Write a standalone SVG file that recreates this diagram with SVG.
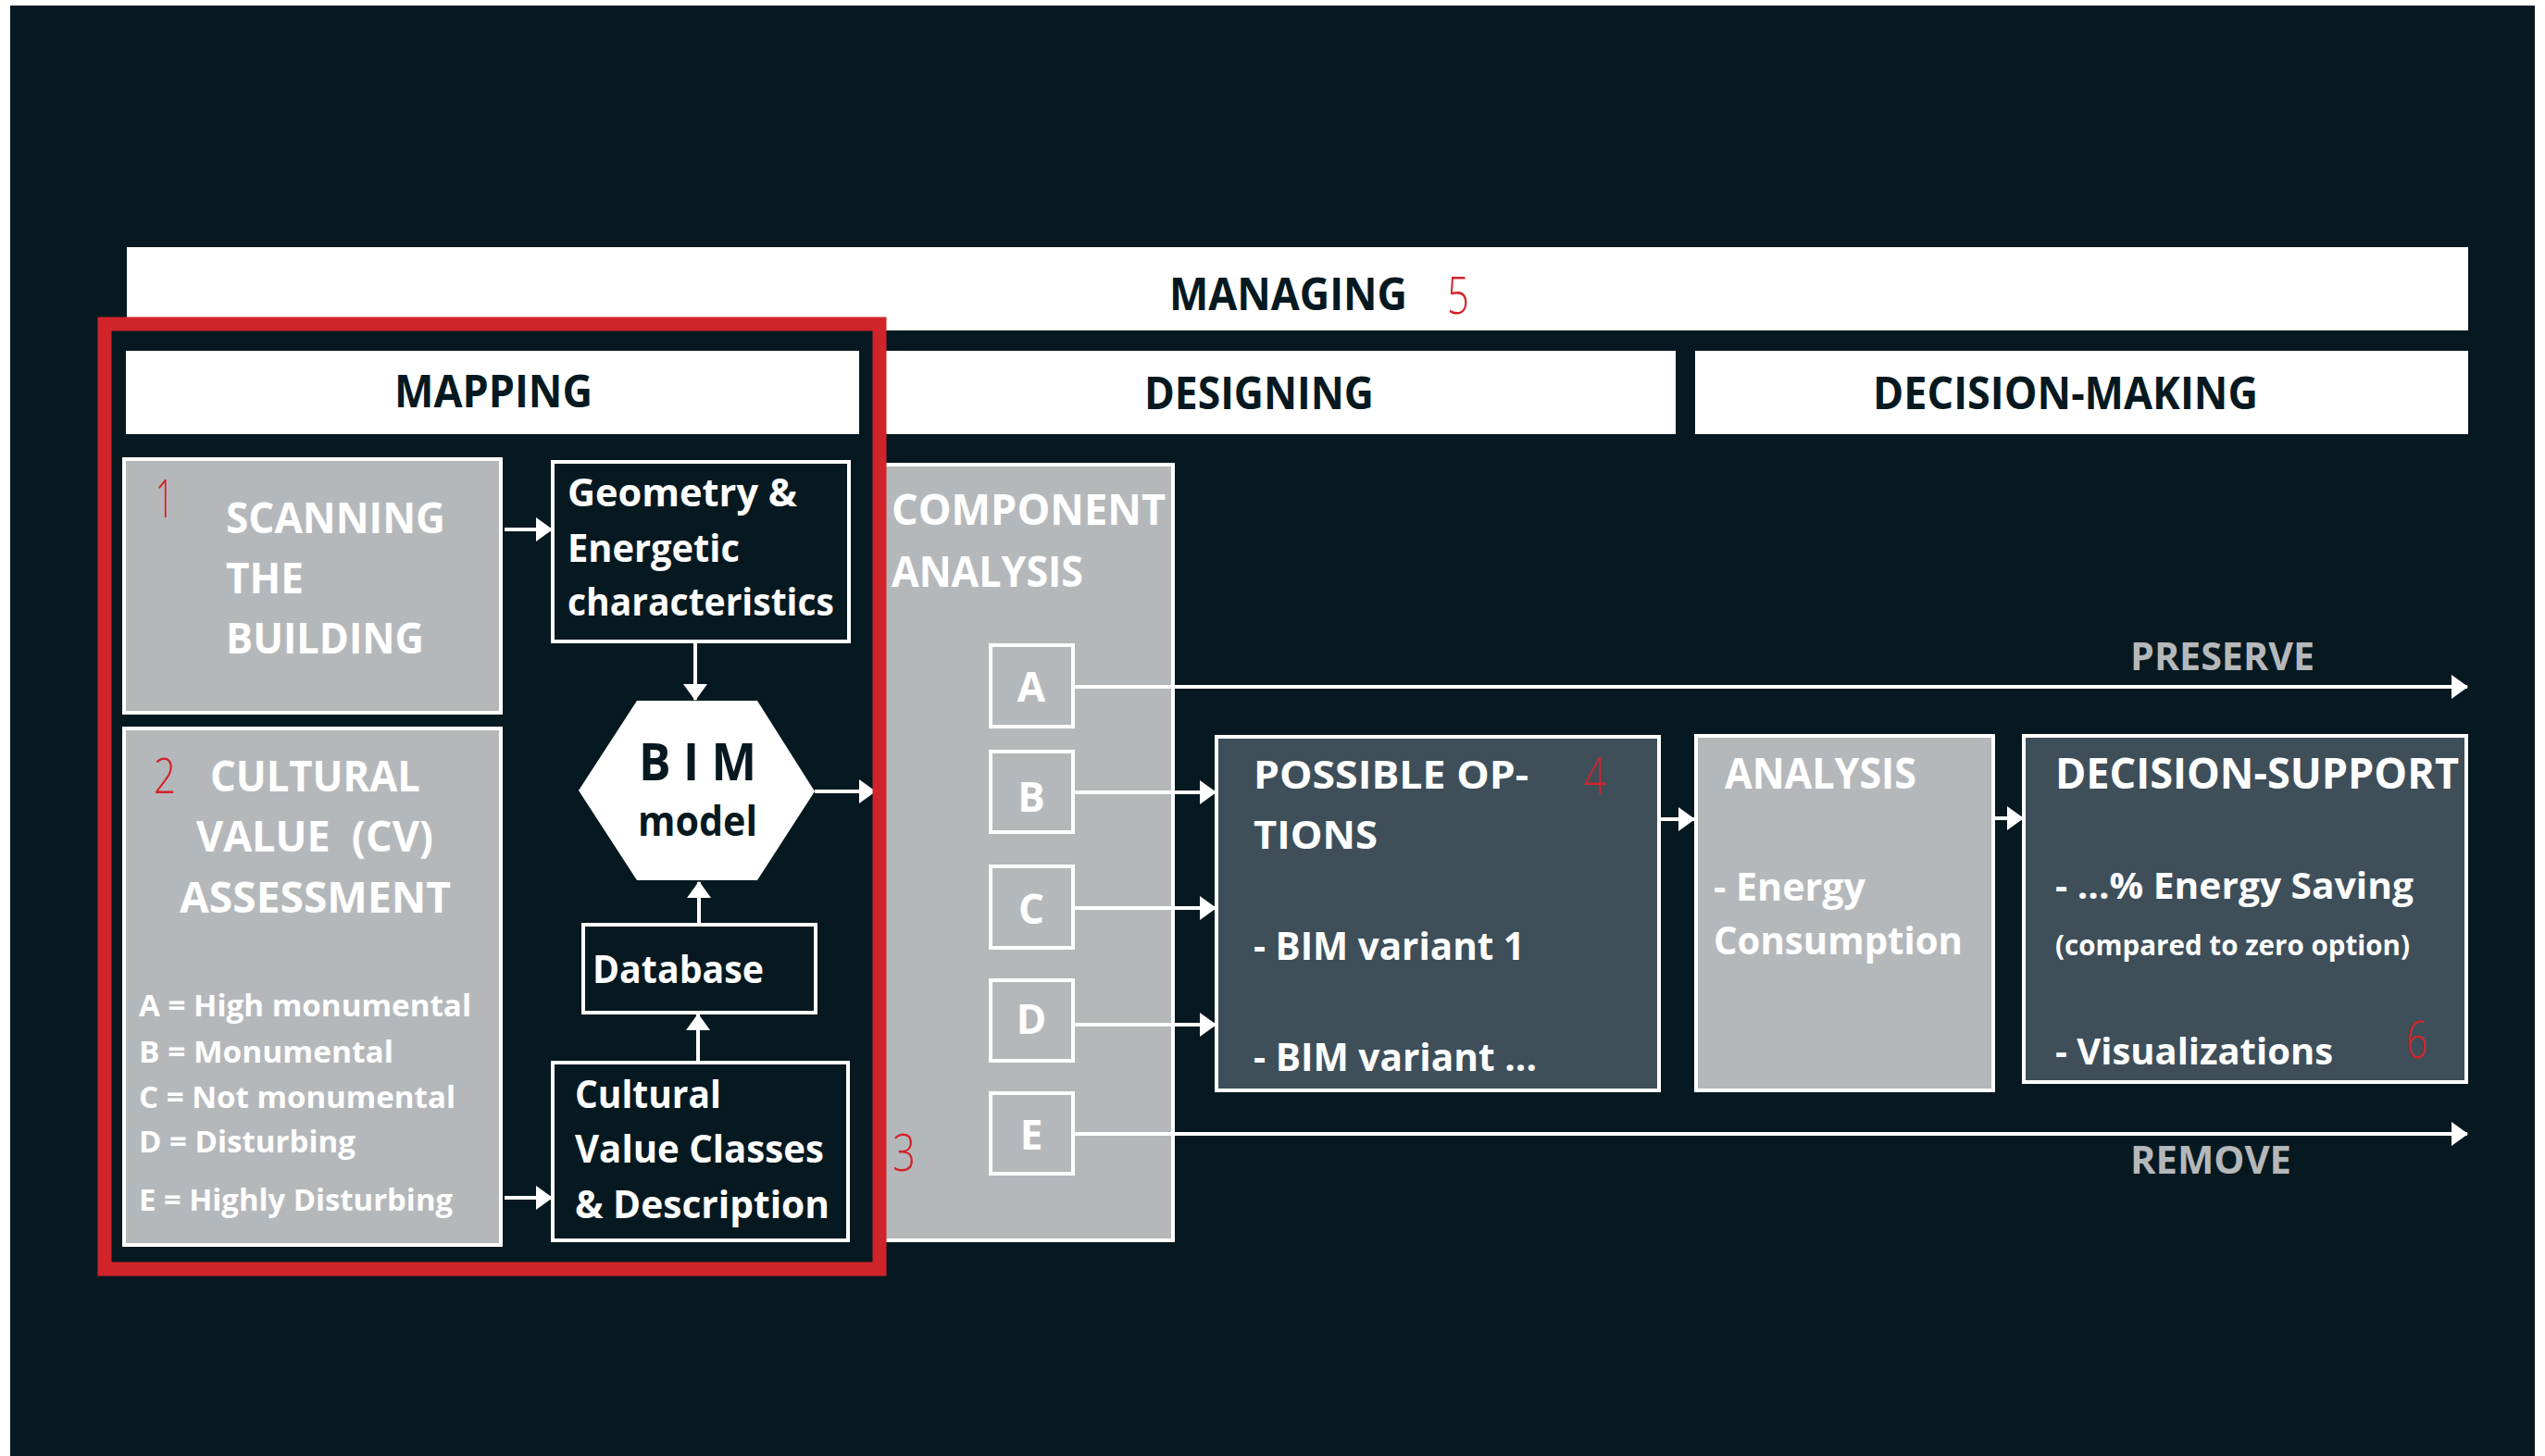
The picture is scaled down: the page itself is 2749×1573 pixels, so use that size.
<svg xmlns="http://www.w3.org/2000/svg" width="2749" height="1573" viewBox="0 0 2749 1573">
<defs>
<style>
text{font-family:"Open Sans","Liberation Sans",sans-serif;font-weight:700}
.w{fill:#ffffff}
.d{fill:#071920}
.g{fill:#b5b8bb}
.num{fill:#d1232a;font-weight:300}
.bar{fill:#ffffff}
.gbox{fill:#b5b8bb;stroke:#ffffff;stroke-width:4}
.sbox{fill:#3e4f5a;stroke:#ffffff;stroke-width:4}
.kbox{fill:#071920;stroke:#ffffff;stroke-width:4}
.con{stroke:#ffffff;stroke-width:4;fill:none}
</style>
<marker id="ah" markerUnits="userSpaceOnUse" markerWidth="18" markerHeight="26" refX="17" refY="13" orient="auto">
<path d="M0,0 L18,13 L0,26 z" fill="#ffffff"/>
</marker>
</defs>
<rect x="0" y="0" width="2749" height="1573" fill="#ffffff"/>
<rect x="11" y="6" width="2727" height="1567" fill="#071920"/>

<g id="managing">
<rect class="bar" x="137" y="267" width="2529" height="90"/>
<text class="d" x="1263" y="335" font-size="49" textLength="257" lengthAdjust="spacingAndGlyphs">MANAGING</text>
<text class="num" x="1563" y="339" font-size="55" textLength="24" lengthAdjust="spacingAndGlyphs">5</text>
</g>
<g id="mapping">
<rect class="bar" x="136" y="379" width="792" height="90"/>
<text class="d" x="426" y="440" font-size="49" textLength="214" lengthAdjust="spacingAndGlyphs">MAPPING</text>
</g>
<g id="designing">
<rect class="bar" x="950" y="379" width="860" height="90"/>
<text class="d" x="1236" y="442" font-size="49" textLength="248" lengthAdjust="spacingAndGlyphs">DESIGNING</text>
</g>
<g id="decision-making">
<rect class="bar" x="1831" y="379" width="835" height="90"/>
<text class="d" x="2023" y="442" font-size="49" textLength="416" lengthAdjust="spacingAndGlyphs">DECISION-MAKING</text>
</g>

<g id="scanning">
<rect class="gbox" x="134" y="496" width="407" height="274"/>
<text class="num" x="168" y="559" font-size="57" textLength="20" lengthAdjust="spacingAndGlyphs">1</text>
<text class="w" x="244" y="576" font-size="46" textLength="237" lengthAdjust="spacingAndGlyphs">SCANNING</text>
<text class="w" x="244" y="641" font-size="46" textLength="84" lengthAdjust="spacingAndGlyphs">THE</text>
<text class="w" x="244" y="706" font-size="46" textLength="214" lengthAdjust="spacingAndGlyphs">BUILDING</text>
</g>
<g id="cv-assessment">
<rect class="gbox" x="134" y="787" width="407" height="558"/>
<text class="num" x="166" y="857" font-size="53" textLength="24" lengthAdjust="spacingAndGlyphs">2</text>
<text class="w" x="227" y="855" font-size="47" textLength="227" lengthAdjust="spacingAndGlyphs">CULTURAL</text>
<text class="w" x="212" y="920" font-size="47" textLength="256" lengthAdjust="spacingAndGlyphs" xml:space="preserve">VALUE  (CV)</text>
<text class="w" x="194" y="986" font-size="47" textLength="293" lengthAdjust="spacingAndGlyphs">ASSESSMENT</text>
<text class="w" x="150" y="1098" font-size="32" textLength="359" lengthAdjust="spacingAndGlyphs">A = High monumental</text>
<text class="w" x="150" y="1148" font-size="32" textLength="275" lengthAdjust="spacingAndGlyphs">B = Monumental</text>
<text class="w" x="150" y="1197" font-size="32" textLength="342" lengthAdjust="spacingAndGlyphs">C = Not monumental</text>
<text class="w" x="150" y="1245" font-size="32" textLength="234" lengthAdjust="spacingAndGlyphs">D = Disturbing</text>
<text class="w" x="150" y="1308" font-size="32" textLength="339" lengthAdjust="spacingAndGlyphs">E = Highly Disturbing</text>
</g>
<g id="geometry">
<rect class="kbox" x="597" y="499" width="320" height="194"/>
<text class="w" x="613" y="547" font-size="41" textLength="248" lengthAdjust="spacingAndGlyphs">Geometry &amp;</text>
<text class="w" x="613" y="607" font-size="41" textLength="186" lengthAdjust="spacingAndGlyphs">Energetic</text>
<text class="w" x="613" y="665" font-size="41" textLength="288" lengthAdjust="spacingAndGlyphs">characteristics</text>
</g>
<g id="bim-model">
<polygon points="625,854 688,757 818,757 880,855 818,951 688,951" fill="#ffffff"/>
<text class="d" x="690" y="843" font-size="56" textLength="127" lengthAdjust="spacingAndGlyphs">B I M</text>
<text class="d" x="689" y="903" font-size="44" textLength="129" lengthAdjust="spacingAndGlyphs">model</text>
</g>
<g id="database">
<rect class="kbox" x="630" y="999" width="251" height="95"/>
<text class="w" x="640" y="1062" font-size="42" textLength="185" lengthAdjust="spacingAndGlyphs">Database</text>
</g>
<g id="cv-classes">
<rect class="kbox" x="597" y="1148" width="319" height="192"/>
<text class="w" x="621" y="1197" font-size="41" textLength="158" lengthAdjust="spacingAndGlyphs">Cultural</text>
<text class="w" x="621" y="1256" font-size="41" textLength="269" lengthAdjust="spacingAndGlyphs">Value Classes</text>
<text class="w" x="621" y="1316" font-size="41" textLength="275" lengthAdjust="spacingAndGlyphs">&amp; Description</text>
</g>

<g id="component-analysis">
<rect class="gbox" x="950" y="502" width="317" height="838"/>
<text class="w" x="963" y="567" font-size="47" textLength="296" lengthAdjust="spacingAndGlyphs">COMPONENT</text>
<text class="w" x="963" y="634" font-size="47" textLength="207" lengthAdjust="spacingAndGlyphs">ANALYSIS</text>
<text class="num" x="964" y="1265" font-size="55" textLength="25" lengthAdjust="spacingAndGlyphs">3</text>
</g>
<g id="class-a"><rect class="gbox" x="1070" y="697" width="89" height="88"/><text class="w" x="1114" y="758" font-size="44" text-anchor="middle">A</text></g>
<g id="class-b"><rect class="gbox" x="1070" y="812" width="89" height="87"/><text class="w" x="1114" y="877" font-size="44" text-anchor="middle">B</text></g>
<g id="class-c"><rect class="gbox" x="1070" y="936" width="89" height="88"/><text class="w" x="1114" y="998" font-size="44" text-anchor="middle">C</text></g>
<g id="class-d"><rect class="gbox" x="1070" y="1059" width="89" height="87"/><text class="w" x="1114" y="1117" font-size="44" text-anchor="middle">D</text></g>
<g id="class-e"><rect class="gbox" x="1070" y="1181" width="89" height="87"/><text class="w" x="1114" y="1242" font-size="44" text-anchor="middle">E</text></g>

<g id="possible-options">
<rect class="sbox" x="1314" y="796" width="478" height="382"/>
<text class="w" x="1354" y="852" font-size="42" textLength="297" lengthAdjust="spacingAndGlyphs">POSSIBLE OP-</text>
<text class="num" x="1711" y="858" font-size="55" textLength="24" lengthAdjust="spacingAndGlyphs">4</text>
<text class="w" x="1354" y="917" font-size="42" textLength="134" lengthAdjust="spacingAndGlyphs">TIONS</text>
<text class="w" x="1354" y="1037" font-size="42" textLength="293" lengthAdjust="spacingAndGlyphs">- BIM variant 1</text>
<text class="w" x="1354" y="1157" font-size="42" textLength="306" lengthAdjust="spacingAndGlyphs">- BIM variant ...</text>
</g>
<g id="analysis">
<rect class="gbox" x="1832" y="795" width="321" height="383"/>
<text class="w" x="1863" y="852" font-size="47" textLength="207" lengthAdjust="spacingAndGlyphs">ANALYSIS</text>
<text class="w" x="1851" y="973" font-size="42" textLength="164" lengthAdjust="spacingAndGlyphs">- Energy</text>
<text class="w" x="1851" y="1031" font-size="42" textLength="269" lengthAdjust="spacingAndGlyphs">Consumption</text>
</g>
<g id="decision-support">
<rect class="sbox" x="2186" y="795" width="478" height="374"/>
<text class="w" x="2220" y="852" font-size="46" textLength="436" lengthAdjust="spacingAndGlyphs">DECISION-SUPPORT</text>
<text class="w" x="2220" y="971" font-size="40" textLength="387" lengthAdjust="spacingAndGlyphs">- ...% Energy Saving</text>
<text class="w" x="2220" y="1032" font-size="31" textLength="383" lengthAdjust="spacingAndGlyphs">(compared to zero option)</text>
<text class="w" x="2220" y="1150" font-size="40" textLength="300" lengthAdjust="spacingAndGlyphs">- Visualizations</text>
<text class="num" x="2599" y="1143" font-size="55" textLength="23" lengthAdjust="spacingAndGlyphs">6</text>
</g>
<g id="labels">
<text class="g" x="2301" y="724" font-size="42" textLength="199" lengthAdjust="spacingAndGlyphs">PRESERVE</text>
<text class="g" x="2301" y="1268" font-size="42" textLength="174" lengthAdjust="spacingAndGlyphs">REMOVE</text>
</g>

<g id="connectors">
<line class="con" x1="545" y1="572" x2="596" y2="572" marker-end="url(#ah)"/>
<line class="con" x1="751" y1="695" x2="751" y2="756" marker-end="url(#ah)"/>
<line class="con" x1="755" y1="998" x2="755" y2="953" marker-end="url(#ah)"/>
<line class="con" x1="754" y1="1147" x2="754" y2="1096" marker-end="url(#ah)"/>
<line class="con" x1="545" y1="1294" x2="596" y2="1294" marker-end="url(#ah)"/>
<line class="con" x1="880" y1="855" x2="945" y2="855" marker-end="url(#ah)"/>
<line class="con" x1="1159" y1="742" x2="2665" y2="742" marker-end="url(#ah)"/>
<line class="con" x1="1159" y1="856" x2="1313" y2="856" marker-end="url(#ah)"/>
<line class="con" x1="1159" y1="981" x2="1313" y2="981" marker-end="url(#ah)"/>
<line class="con" x1="1159" y1="1107" x2="1313" y2="1107" marker-end="url(#ah)"/>
<line class="con" x1="1159" y1="1225" x2="2665" y2="1225" marker-end="url(#ah)"/>
<line class="con" x1="1793" y1="885" x2="1830" y2="885" marker-end="url(#ah)"/>
<line class="con" x1="2153" y1="884" x2="2185" y2="884" marker-end="url(#ah)"/>
</g>

<g id="highlight">
<rect x="113" y="350" width="837" height="1021" fill="none" stroke="#d1232a" stroke-width="15"/>
</g>
</svg>
